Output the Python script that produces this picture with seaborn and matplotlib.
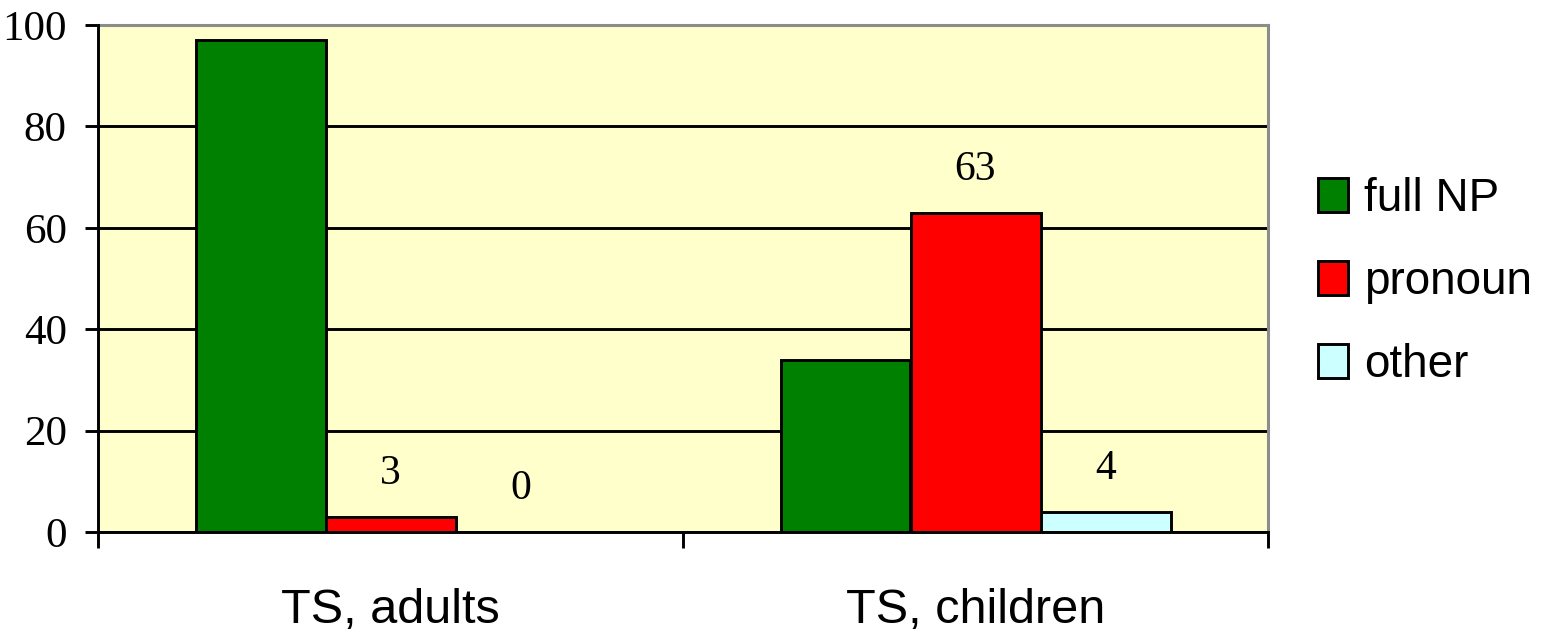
import numpy as np
import pandas as pd
import matplotlib
matplotlib.use("Agg")
import matplotlib.pyplot as plt
import seaborn as sns

# Data
groups = ["TS, adults", "TS, children"]
series = ["full NP", "pronoun", "other"]
full_np = [97, 34]
pronoun = [3, 63]
other = [0, 4]
labelled_series = ["pronoun", "other"]

colors = {"full NP": "#008000", "pronoun": "#FF0000", "other": "#CCFFFF"}

df = pd.DataFrame({
    "group": groups * 3,
    "series": [s for s in series for _ in groups],
    "value": full_np + pronoun + other,
})

sns.set_style("white")
plt.rcParams["font.family"] = ["Liberation Sans", "DejaVu Sans"]
plt.rcParams["text.color"] = "black"
plt.rcParams["xtick.color"] = "black"
plt.rcParams["ytick.color"] = "black"

LW = 2.1

fig = plt.figure(figsize=(15.42, 6.38), dpi=100)
ax = fig.add_axes([98 / 1542, 1 - 532 / 638, (1268 - 98) / 1542, (532 - 25) / 638])
ax.set_facecolor("#FFFFCC")

sns.barplot(data=df, x="group", y="value", hue="series", hue_order=series,
            order=groups, palette=colors, width=2 / 3, edgecolor="black",
            linewidth=LW, saturation=1, ax=ax, zorder=3)

ax.set_xlim(-0.5, 1.5)
ax.set_ylim(0, 100)
ax.set_yticks(np.arange(0, 101, 20))
ax.yaxis.grid(True, color="black", linewidth=LW, zorder=1)
ax.set_axisbelow(True)
ax.set_xlabel("")
ax.set_ylabel("")

# Value labels for the smaller series
for cont, name in zip(ax.containers, series):
    if name in labelled_series:
        ax.bar_label(cont, fmt="%d", padding=17, fontsize=30,
                     family="Liberation Serif", color="black")

# Spines
for side in ["left", "bottom"]:
    ax.spines[side].set_color("black")
    ax.spines[side].set_linewidth(LW)
    ax.spines[side].set_zorder(5)
for side in ["top", "right"]:
    ax.spines[side].set_color("#8C8C8C")
    ax.spines[side].set_linewidth(2.2)

# Ticks
ax.tick_params(axis="y", which="major", direction="out", length=9.5, width=LW,
               color="black", pad=13, labelsize=31, left=True, labelcolor="black")
for lab in ax.get_yticklabels():
    lab.set_family("Liberation Serif")
ax.tick_params(axis="x", which="major", length=0, pad=40, labelsize=35,
               labelcolor="black")
ax.set_xticks([-0.5, 0.5, 1.5], minor=True)
ax.tick_params(axis="x", which="minor", direction="out", length=11.5, width=LW,
               color="black", bottom=True)

# Legend
handles, labels = ax.get_legend_handles_labels()
leg = ax.legend(handles, labels, loc="center left",
                bbox_to_anchor=(1318 / 1542, 1 - 282 / 638),
                bbox_transform=fig.transFigure, frameon=False, fontsize=33,
                handlelength=0.66, handleheight=0.75, handletextpad=0.34,
                labelspacing=0.85, borderpad=0, borderaxespad=0)
for t in leg.get_texts():
    t.set_color("black")
for h in leg.legend_handles:
    h.set_edgecolor("black")
    h.set_linewidth(LW)

fig.savefig("out.png", dpi=100, facecolor="white")
